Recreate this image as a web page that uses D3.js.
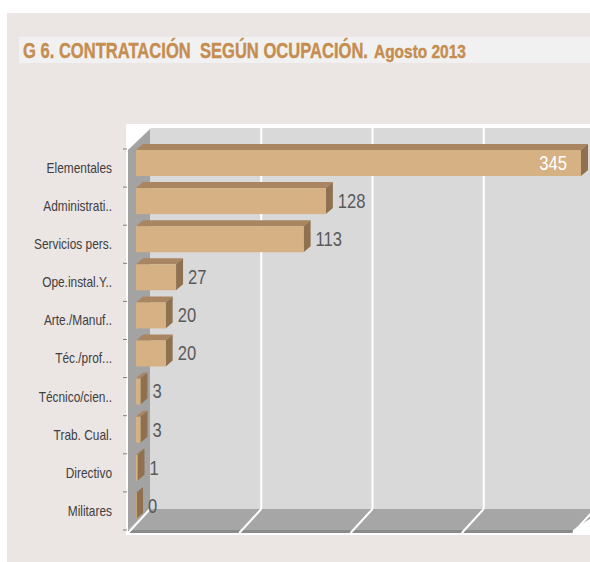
<!DOCTYPE html>
<html>
<head>
<meta charset="utf-8">
<script src="https://cdn.jsdelivr.net/npm/d3@7"></script>
<style>
  html, body { margin: 0; padding: 0; background: #fff; }
  svg { display: block; }
  text { font-family: "Liberation Sans", Arial, sans-serif; }
</style>
</head>
<body>
<div id="chart"></div>
<script>
const categories = ['Elementales', 'Administrati..', 'Servicios pers.', 'Ope.instal.Y..', 'Arte./Manuf..',
  'Téc./prof...', 'Técnico/cien..', 'Trab. Cual.', 'Directivo', 'Militares'];
const values = [345, 128, 113, 27, 20, 20, 3, 3, 1, 0];
const gridTicks = [0, 75, 150, 225, 300];
const titleMain = 'G 6. CONTRATACIÓN  SEGÚN OCUPACIÓN.';
const titleSub = 'Agosto 2013';

const color = {
  panel: '#ebe5e4',
  band: '#f2f1f1',
  title: '#c58d4f',
  wall: '#d9d9d9',
  side: '#a3a3a3',
  floor: '#a6a6a6',
  floorEdge: '#8a8a8a',
  grid: '#ffffff',
  barFront: '#d6b183',
  barTop: '#a98561',
  barSide: '#8f7150',
  label: '#595959',
  cat: '#404040'
};

const W = 590, H = 562;
const narrow = 0.85; // squeeze for the condensed face of the original
const svg = d3.select('#chart').append('svg').attr('width', W).attr('height', H);

// panel + title band
svg.append('rect').attr('x', 7).attr('y', 13).attr('width', W - 7).attr('height', H - 13).attr('fill', color.panel);
svg.append('rect').attr('x', 19).attr('y', 37).attr('width', W - 19).attr('height', 26).attr('fill', color.band);

// title pieces squeezed to the condensed widths of the original
function squeezed(txt, x0, width, size){
  const t = svg.append('text').attr('fill', color.title).attr('font-weight', 'bold')
    .attr('font-size', size).style('white-space', 'pre')
    .attr('stroke', color.title).attr('stroke-width', 0.4).text(txt);
  const w = t.node().getComputedTextLength();
  t.attr('transform', `translate(${x0},57.7) scale(${width / w},1)`);
}
squeezed(titleMain, 23, 345, 22);
squeezed(titleSub, 374, 92, 18);

// plot area
svg.append('rect').attr('x', 126).attr('y', 124).attr('width', W - 126).attr('height', 411).attr('fill', '#fff');

// 3d geometry: front plane, depth offset
const frontX = 128, depth = {dx: 22, dy: -21};
const x = d3.scaleLinear().domain([0, 300]).range([0, 445]);
const y = d3.scaleBand().domain(categories).range([149, 530]);
const yTop = y.range()[0], yBot = y.range()[1];
const backX = frontX + depth.dx;

const g3 = svg.append('g');
// back wall
g3.append('rect').attr('x', backX).attr('y', yTop + depth.dy)
  .attr('width', x(300) + 10).attr('height', yBot - yTop).attr('fill', color.wall);
// left wall
g3.append('path').attr('fill', color.side)
  .attr('d', `M${frontX},${yTop} L${backX},${yTop + depth.dy} L${backX},${yBot + depth.dy} L${frontX},${yBot} Z`);
// floor
g3.append('path').attr('fill', color.floor)
  .attr('d', `M${frontX},${yBot} L${backX},${yBot + depth.dy} L${backX + x(300) + 10},${yBot + depth.dy} L${frontX + x(300)},${yBot} Z`);
g3.append('rect').attr('x', frontX).attr('y', yBot).attr('width', x(300)).attr('height', 3).attr('fill', color.floorEdge);

// gridlines on back wall and floor
gridTicks.forEach(t => {
  const bx = backX + x(t), fx = frontX + x(t);
  if (t > 0) {
    g3.append('line').attr('x1', bx).attr('x2', bx).attr('y1', yTop + depth.dy).attr('y2', yBot + depth.dy)
      .attr('stroke', color.grid).attr('stroke-width', 2);
  }
  g3.append('line').attr('x1', fx).attr('y1', yBot + 3).attr('x2', bx).attr('y2', yBot + depth.dy)
    .attr('stroke', color.grid).attr('stroke-width', 2);
});
// top edge of left wall
g3.append('line').attr('x1', frontX).attr('y1', yTop).attr('x2', backX).attr('y2', yTop + depth.dy)
  .attr('stroke', '#fff').attr('stroke-width', 1.5);

// category ticks + labels
const ticks = categories.map(c => y(c)).concat([yBot]);
svg.append('g').selectAll('line').data(ticks).join('line')
  .attr('x1', 123).attr('x2', 127).attr('y1', d => d).attr('y2', d => d)
  .attr('stroke', '#7f7f7f');
svg.append('g').selectAll('text').data(categories).join('text')
  .attr('transform', d => `translate(112,${y(d) + y.bandwidth() / 2}) scale(${narrow},1)`)
  .attr('dy', '0.35em').attr('text-anchor', 'end')
  .attr('font-size', 14).attr('fill', color.cat).text(d => d);

// bars
const barX0 = frontX + 8, barH = 26, bd = {dx: 7, dy: -6};
const clip = v => Math.min(v, 300);
const bars = svg.append('g').selectAll('g').data(values.map((v, i) => ({v, c: categories[i]}))).join('g');
bars.append('path').attr('fill', color.barTop)
  .attr('d', d => {
    const y0 = y(d.c) + 1, x1 = barX0 + x(clip(d.v));
    return `M${barX0},${y0} L${barX0 + bd.dx},${y0 + bd.dy} L${x1 + bd.dx},${y0 + bd.dy} L${x1},${y0} Z`;
  });
bars.append('path').attr('fill', color.barSide)
  .attr('d', d => {
    const y0 = y(d.c) + 1, x1 = barX0 + x(clip(d.v));
    return `M${x1},${y0} L${x1 + bd.dx},${y0 + bd.dy} L${x1 + bd.dx},${y0 + barH + bd.dy} L${x1},${y0 + barH} Z`;
  });
bars.append('rect').attr('fill', color.barFront)
  .attr('x', barX0).attr('y', d => y(d.c) + 1)
  .attr('width', d => Math.max(x(clip(d.v)), 0.8)).attr('height', barH);

// value labels
bars.append('text')
  .attr('transform', d => {
    const lx = d.v > 300 ? barX0 + x(300) - 14 : barX0 + x(d.v) + bd.dx + 5;
    return `translate(${lx},${y(d.c) + 1 + barH / 2}) scale(${narrow},1)`;
  })
  .attr('dy', '0.35em')
  .attr('text-anchor', d => d.v > 300 ? 'end' : 'start')
  .attr('font-size', 19.5)
  .attr('fill', d => d.v > 300 ? '#fff' : color.label)
  .text(d => d.v);
</script>
</body>
</html>
